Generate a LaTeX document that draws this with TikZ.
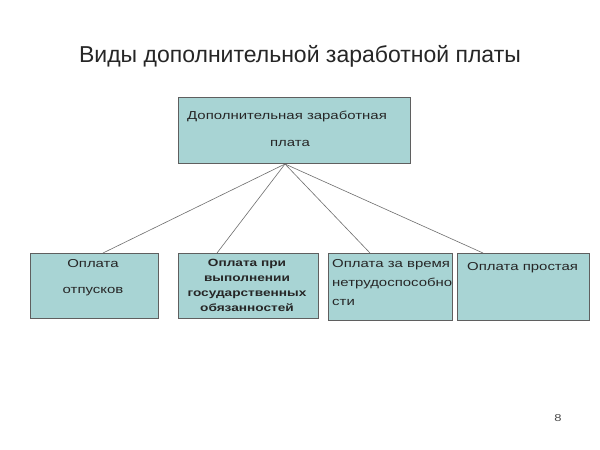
\documentclass[tikz,border=0pt]{standalone}
\usepackage{fontspec}
\setmainfont{Liberation Sans}
\newfontfamily\boxfont[FakeStretch=1.3]{Liberation Sans}
\definecolor{boxfill}{RGB}{168,212,212}
\definecolor{boxline}{RGB}{95,95,95}
\definecolor{conn}{RGB}{110,110,110}
\begin{document}
\begin{tikzpicture}[x=1pt,y=-1pt,
  box/.style={draw=boxline,fill=boxfill,line width=0.9pt},
  lbl/.style={font=\boxfont\fontsize{11.5}{14}\selectfont,text=black!85,inner sep=0pt},
  link/.style={draw=conn,line width=0.6pt}]
\useasboundingbox[fill=white] (0,0) rectangle (600,450);
\node[font=\fontsize{23}{26}\selectfont,text=black!85] (title) at (300,56) {Виды дополнительной заработной платы};
% boxes
\draw[box] (178,97) rectangle (410,163);
\node[lbl,anchor=west] (t1) at (187,116) {Дополнительная заработная};
\node[lbl] (t2) at (290,143) {плата};
\coordinate (hub) at (285,164);
\draw[box] (30,253) rectangle (158,318);
\node[lbl] (a) at (93,264) {Оплата};
\node[lbl] (a2) at (93,292) {отпусков};
\draw[box] (178,253) rectangle (318,318);
\node[lbl,align=center,font=\boxfont\fontsize{10.5}{15}\selectfont\bfseries] (b) at (247,285.5) {Оплата при\\выполнении\\государственных\\обязанностей};
\begin{scope}
\clip (328,253) rectangle (452,320);
\draw[box] (328,253) rectangle (452,320);
\node[lbl,align=left,anchor=north west,font=\boxfont\fontsize{11.5}{19}\selectfont] (c) at (332,259) {Оплата за время\\нетрудоспособно\\сти};
\end{scope}
\draw[boxline,line width=0.9pt] (328,253) rectangle (452,320);
\draw[box] (457,253) rectangle (589,320);
\node[lbl,anchor=west] (d) at (467,268) {Оплата простая};
\coordinate (ea) at (103,253);
\coordinate (eb) at (217,253);
\coordinate (ec) at (370,253);
\coordinate (ed) at (483,253);
\draw[link] (hub) -- (ea);
\draw[link] (hub) -- (eb);
\draw[link] (hub) -- (ec);
\draw[link] (hub) -- (ed);
\node[font=\boxfont\fontsize{10}{12}\selectfont,text=black!70] (pg) at (558,418) {8};
\end{tikzpicture}
\end{document}
